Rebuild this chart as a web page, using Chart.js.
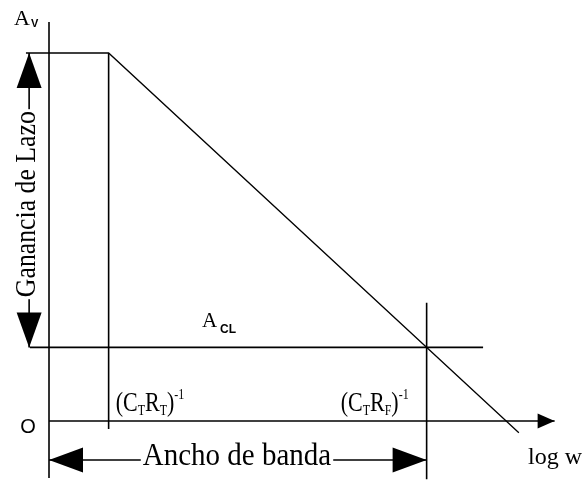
<!DOCTYPE html>
<html lang="es">
<head>
<meta charset="UTF-8">
<title>Ganancia de lazo y ancho de banda</title>
<script src="https://cdn.jsdelivr.net/npm/chart.js"></script>
<style>
  body { margin: 0; background: #fff; }
  canvas { display: block; }
</style>
</head>
<body>
<canvas id="bodeChart" width="585" height="482"></canvas>
<script>
// log w of the two break points: (CT RT)^-1 and (CT RF)^-1
const breakLogW = [0.75, 4.75];
const breakLabels = [
  [['(C', ''], ['T', 'sub'], ['R', ''], ['T', 'sub'], [')', ''], ['-1', 'sup']],
  [['(C', ''], ['T', 'sub'], ['R', ''], ['F', 'sub'], [')', ''], ['-1', 'sup']]
];
// open loop gain Av and closed loop gain ACL
const gainLevels = [100, 20];
const gainNames = [['A', 'V'], ['A', 'CL']];
// asymptotic response: flat at Av, then falling one step per decade
const responseLogW = [-0.29, 0.75, 5.91];
const responseGain = [100, 100, -3.2];
// axis extents
const axisLogW = [0, 6.36];
const axisGain = [-15.5, 108.4];

const seg = (x0, y0, x1, y1) => [{ x: x0, y: y0 }, { x: x1, y: y1 }];
const stroke = (data, w) => ({
  data, borderColor: '#000', borderWidth: w || 1.6,
  pointRadius: 0, showLine: true, fill: false, tension: 0
});

const gainArrowX = -0.25;
const bandArrowY = -10.6;

const datasets = [
  stroke(responseLogW.map((x, i) => ({ x, y: responseGain[i] })), 1.3),
  stroke(seg(0, axisGain[0], 0, axisGain[1])),
  stroke(seg(0, 0, axisLogW[1], 0)),
  stroke(seg(-0.24, gainLevels[1], 5.46, gainLevels[1])),
  stroke(seg(breakLogW[0], gainLevels[0], breakLogW[0], -2.2)),
  stroke(seg(breakLogW[1], 32.1, breakLogW[1], -15.8)),
  stroke(seg(gainArrowX, gainLevels[0], gainArrowX, gainLevels[1])),
  stroke(seg(0, bandArrowY, breakLogW[1], bandArrowY))
];

function arrowHead(ctx, x, y, angle, len, half) {
  ctx.save();
  ctx.translate(x, y);
  ctx.rotate(angle);
  ctx.beginPath();
  ctx.moveTo(0, 0);
  ctx.lineTo(-len, -half);
  ctx.lineTo(-len, half);
  ctx.closePath();
  ctx.fillStyle = '#000';
  ctx.fill();
  ctx.restore();
}

// text with subscripts / superscripts, parts = [[text, 'sub'|'sup'|''], ...]
function richText(ctx, parts, x, y, align, size, stretch) {
  const fontFor = kind => kind ? Math.round(size * 0.55) + 'px "Liberation Serif"' : size + 'px "Liberation Serif"';
  let total = 0;
  parts.forEach(([t, k]) => { ctx.font = fontFor(k); total += ctx.measureText(t).width; });
  let cx = align === 'right' ? x - total : x;
  ctx.save();
  ctx.translate(0, y);
  ctx.scale(1, stretch || 1);
  ctx.textAlign = 'left';
  ctx.textBaseline = 'alphabetic';
  parts.forEach(([t, k]) => {
    ctx.font = fontFor(k);
    const dy = k === 'sub' ? 3 : k === 'sup' ? -size * 0.45 : 0;
    ctx.fillText(t, cx, dy);
    cx += ctx.measureText(t).width;
  });
  ctx.restore();
}

const annotations = {
  id: 'annotations',
  afterDatasetsDraw(chart) {
    const { ctx } = chart;
    const xs = chart.scales.x, ys = chart.scales.y;
    const px = v => xs.getPixelForValue(v), py = v => ys.getPixelForValue(v);
    ctx.save();
    ctx.fillStyle = '#000';

    // axis arrow on log w
    arrowHead(ctx, px(axisLogW[1]), py(0), 0, 17, 7.5);

    // loop gain arrow between Av and ACL
    const gx = px(gainArrowX);
    arrowHead(ctx, gx, py(gainLevels[0]), -Math.PI / 2, 35, 12.5);
    arrowHead(ctx, gx, py(gainLevels[1]), Math.PI / 2, 35, 12.5);
    const gMid = (py(gainLevels[0]) + py(gainLevels[1])) / 2 + 4;
    ctx.fillStyle = '#fff';
    ctx.fillRect(gx - 18, gMid - 95, 30, 190);
    ctx.fillStyle = '#000';
    ctx.save();
    ctx.translate(gx + 6, gMid);
    ctx.rotate(-Math.PI / 2);
    ctx.scale(0.92, 1.08);
    ctx.font = '28px "Liberation Serif"';
    ctx.textAlign = 'center';
    ctx.textBaseline = 'alphabetic';
    ctx.fillText('Ganancia de Lazo', 0, 0);
    ctx.restore();

    // bandwidth arrow from the axis to (CT RF)^-1
    const by = py(bandArrowY);
    arrowHead(ctx, px(0), by, Math.PI, 34, 12.5);
    arrowHead(ctx, px(breakLogW[1]), by, 0, 34, 12.5);
    ctx.font = '29px "Liberation Serif"';
    const bx = 237;
    const bw = ctx.measureText('Ancho de banda').width;
    ctx.fillStyle = '#fff';
    ctx.fillRect(bx - bw / 2 - 2, by - 18, bw + 4, 32);
    ctx.fillStyle = '#000';
    ctx.save();
    ctx.translate(bx, by + 5);
    ctx.scale(1, 1.1);
    ctx.textAlign = 'center';
    ctx.textBaseline = 'alphabetic';
    ctx.fillText('Ancho de banda', 0, 0);
    ctx.restore();

    // break point labels
    richText(ctx, breakLabels[0], px(breakLogW[0]) + 7, py(0) - 10, 'left', 22, 1.2);
    richText(ctx, breakLabels[1], px(breakLogW[1]) - 18, py(0) - 10, 'right', 22, 1.2);

    // gain level names
    ctx.textAlign = 'left';
    ctx.font = '22px "Liberation Serif"';
    ctx.fillText(gainNames[0][0], 14, py(axisGain[1]) + 3);
    ctx.font = 'bold 11px "Liberation Sans"';
    ctx.fillText(gainNames[0][1], 31, py(axisGain[1]) + 5);
    ctx.font = '21px "Liberation Serif"';
    ctx.fillText(gainNames[1][0], 202, py(gainLevels[1]) - 20);
    ctx.font = 'bold 12px "Liberation Sans"';
    ctx.fillText(gainNames[1][1], 220, py(gainLevels[1]) - 14);

    // origin and axis name
    ctx.font = '20px "Liberation Sans"';
    ctx.textAlign = 'center';
    ctx.fillText('O', 28, py(0) + 12);
    ctx.textAlign = 'left';
    ctx.font = '24px "Liberation Serif"';
    ctx.fillText('log w', 528, py(bandArrowY) + 4);
    ctx.restore();
  }
};

new Chart(document.getElementById('bodeChart'), {
  type: 'scatter',
  data: { datasets },
  options: {
    responsive: false,
    animation: false,
    devicePixelRatio: 1,
    layout: { padding: 0 },
    plugins: { legend: { display: false }, tooltip: { enabled: false } },
    scales: {
      x: { type: 'linear', min: -0.6164, max: 6.742, display: false },
      y: { type: 'linear', min: -16.58, max: 114.4, display: false }
    }
  },
  plugins: [annotations]
});
</script>
</body>
</html>
